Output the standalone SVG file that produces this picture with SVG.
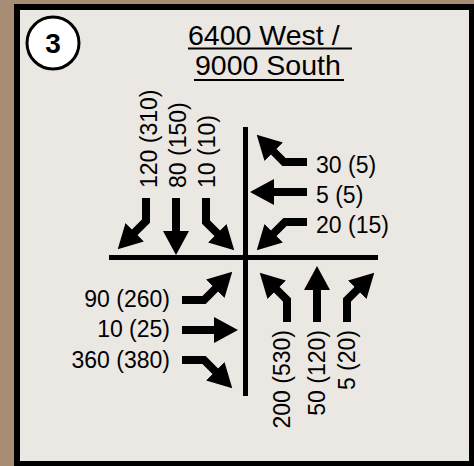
<svg xmlns="http://www.w3.org/2000/svg" width="474" height="466" viewBox="0 0 474 466">
<style>
.lbl{font-family:"Liberation Sans",Arial,sans-serif;font-size:23px;fill:#000}
.ttl{font-family:"Liberation Sans",Arial,sans-serif;font-size:28.5px;fill:#000}
.arr{fill:none;stroke:#000;stroke-width:8;stroke-linejoin:miter;marker-end:url(#ah)}
.road{stroke:#000;stroke-width:5;fill:none}
</style>
<defs>
<marker id="ah" markerUnits="userSpaceOnUse" markerWidth="24" markerHeight="26" viewBox="0 0 24 26" refX="1" refY="13" orient="auto">
<path d="M0,0 L24,13 L0,26 Z" fill="#000"/>
</marker>
</defs>
<rect x="0" y="0" width="474" height="466" fill="#a78d73"/>
<rect x="14" y="4" width="460" height="462" fill="#000"/>
<rect x="20" y="10" width="449" height="451" fill="#ebe7e3"/>
<g id="badge">
<circle cx="53" cy="43" r="26" fill="#fff" stroke="#000" stroke-width="3"/>
<text x="53" y="53" text-anchor="middle" font-family="Liberation Sans, Arial, sans-serif" font-weight="bold" font-size="28">3</text>
</g>
<g id="title">
<text class="ttl" x="188" y="45">6400 West /</text>
<line x1="188" y1="48.5" x2="352" y2="48.5" stroke="#000" stroke-width="2"/>
<text class="ttl" x="195" y="75">9000 South</text>
<line x1="194" y1="80" x2="344" y2="80" stroke="#000" stroke-width="2"/>
</g>
<g id="roads">
<line class="road" x1="109" y1="257.5" x2="378" y2="257.5"/>
<line class="road" x1="245.5" y1="127" x2="245.5" y2="396"/>
</g>
<g id="connectors">
<path class="arr" d="M146,198 V221 L134,233"/>
<path class="arr" d="M176,198 V232"/>
<path class="arr" d="M206,198 V222 L218,234"/>
<path class="arr" d="M307,162 H284 L273,151"/>
<path class="arr" d="M307,192 H273"/>
<path class="arr" d="M307,222 H285 L273,234"/>
<path class="arr" d="M182,300 H204 L216,288"/>
<path class="arr" d="M182,330 H215"/>
<path class="arr" d="M182,360 H204 L216,372"/>
<path class="arr" d="M287,322 V300 L276,289"/>
<path class="arr" d="M317,322 V289"/>
<path class="arr" d="M347,322 V300 L358,289"/>
</g>
<g id="southbound">
<text class="lbl" transform="translate(157,188) rotate(-90)">120 (310)</text>
<text class="lbl" transform="translate(186,188) rotate(-90)">80 (150)</text>
<text class="lbl" transform="translate(215,188) rotate(-90)">10 (10)</text>
</g>
<g id="westbound">
<text class="lbl" x="316" y="173">30 (5)</text>
<text class="lbl" x="316" y="203">5 (5)</text>
<text class="lbl" x="316" y="233">20 (15)</text>
</g>
<g id="eastbound">
<text class="lbl" x="170" y="307" text-anchor="end">90 (260)</text>
<text class="lbl" x="170" y="337" text-anchor="end">10 (25)</text>
<text class="lbl" x="170" y="368" text-anchor="end">360 (380)</text>
</g>
<g id="northbound">
<text class="lbl" transform="translate(290,330) rotate(-90)" text-anchor="end">200 (530)</text>
<text class="lbl" transform="translate(325,330) rotate(-90)" text-anchor="end">50 (120)</text>
<text class="lbl" transform="translate(355,330) rotate(-90)" text-anchor="end">5 (20)</text>
</g>
</svg>
